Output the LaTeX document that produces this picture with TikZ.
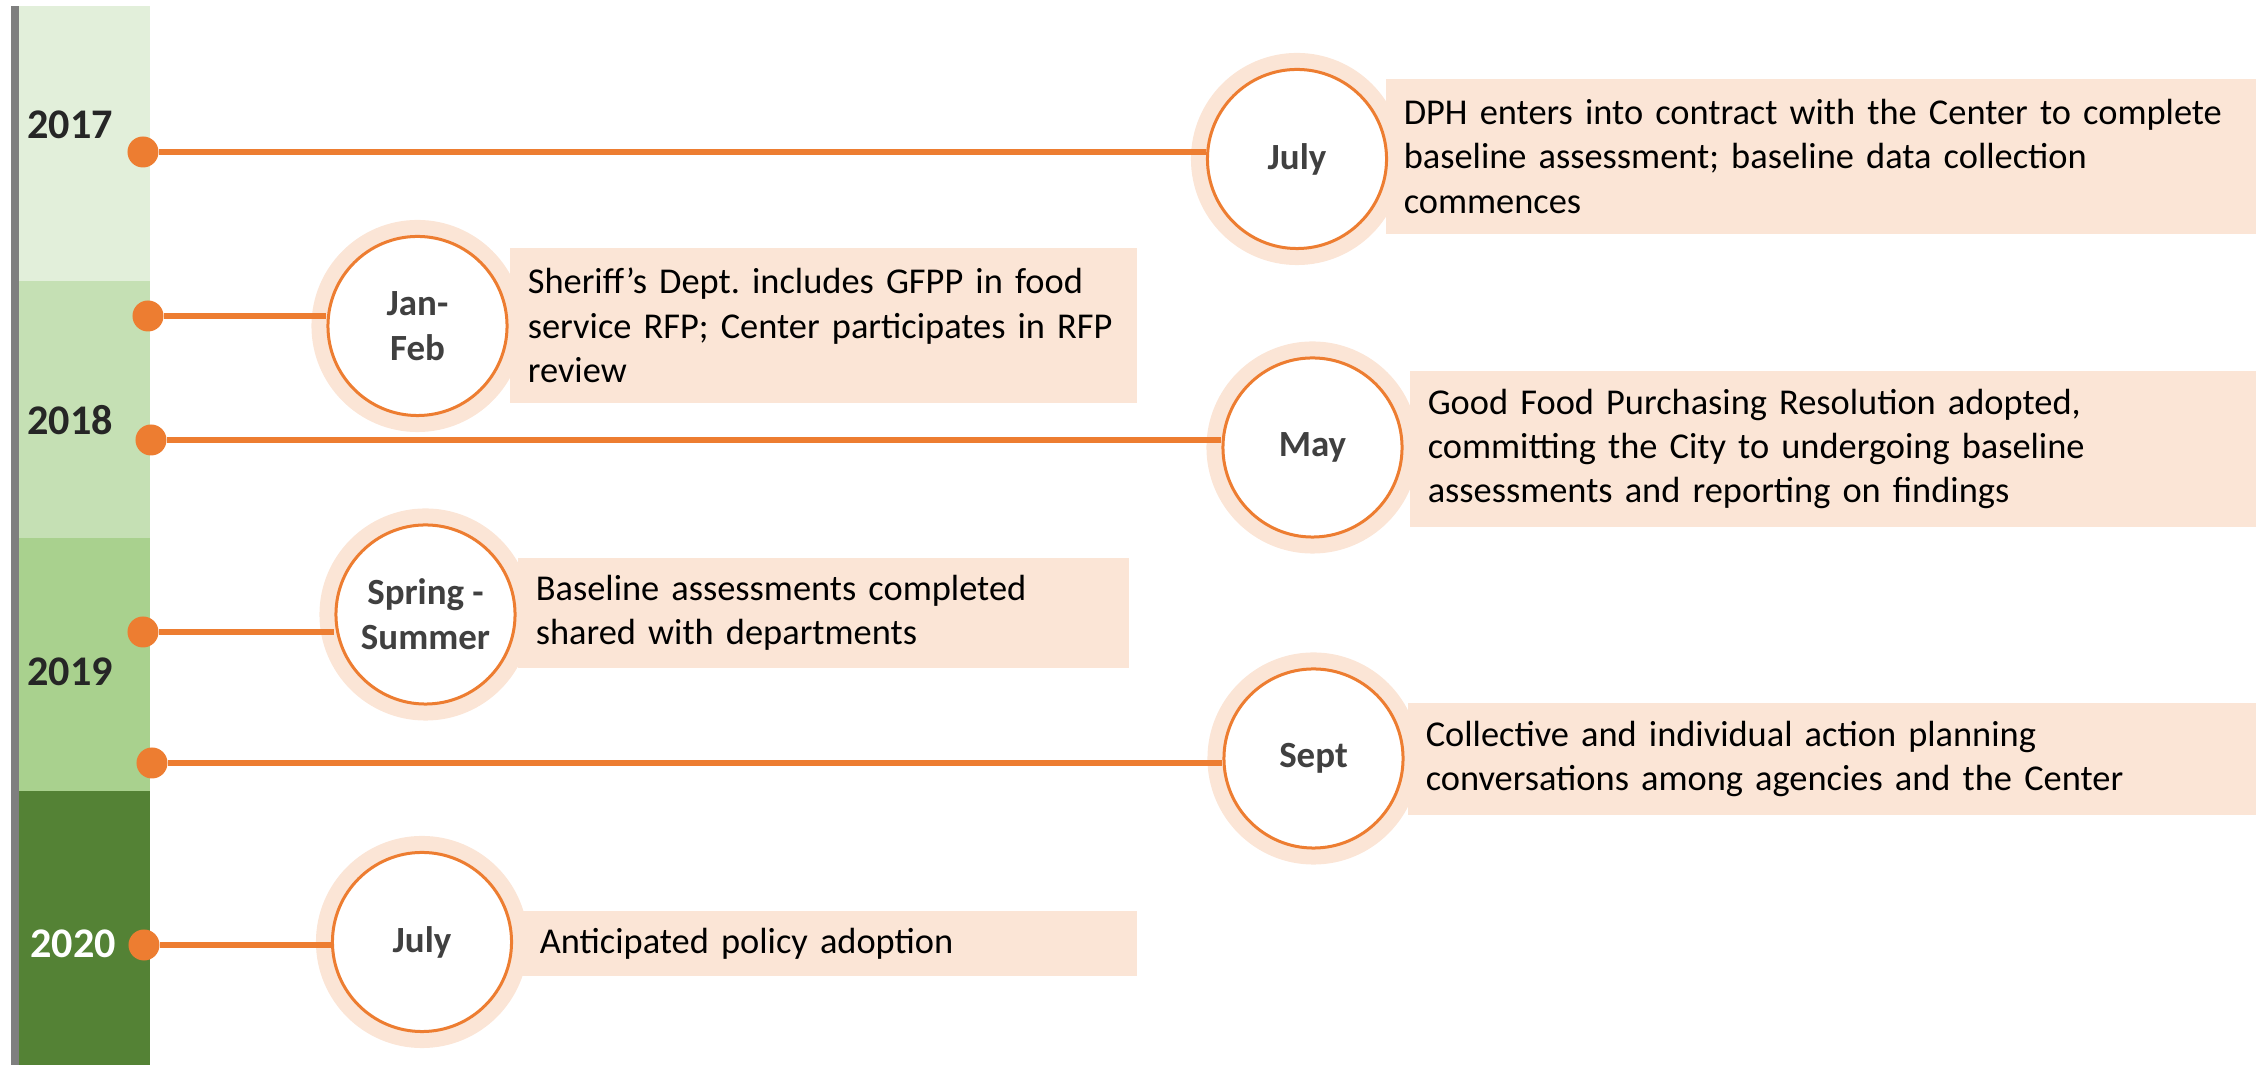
\documentclass[tikz,border=0pt]{standalone}
\usepackage{fontspec}
\setmainfont{Carlito}

\definecolor{tlorange}{HTML}{ED7D31}
\definecolor{tlpeach}{HTML}{FBE5D6}
\definecolor{tlgray}{HTML}{7F7F7F}
\definecolor{tllabel}{HTML}{404040}
\definecolor{tlyear}{HTML}{262626}
\definecolor{bandA}{HTML}{E2EFDA}
\definecolor{bandB}{HTML}{C5E0B4}
\definecolor{bandC}{HTML}{A9D18E}
\definecolor{bandD}{HTML}{548235}

\begin{document}
\begin{tikzpicture}[x=0.01cm, y=-0.01cm,
    link/.style={draw=tlorange, line width=0.055cm},
    dot/.style={circle, fill=tlorange, inner sep=0pt, minimum size=0.31cm},
    month/.style={circle, draw=tlorange, line width=0.03cm, fill=white,
        minimum size=1.79cm, inner sep=0pt, align=center, text=tllabel,
        font=\fontsize{10.5}{12.8}\selectfont\bfseries,
        preaction={draw=tlpeach, line width=0.33cm}},
    event/.style={fill=tlpeach, inner xsep=0.18cm, inner ysep=0pt,
        align=left, font=\fontsize{10.35}{12.6}\selectfont},
    year/.style={font=\fontsize{12}{14}\selectfont\bfseries, text=tlyear}]
    \useasboundingbox (0,0) rectangle (2260,1065);

    % year column
    \fill[tlgray] (10.7,6) rectangle (18.7,1065);
    \foreach \c/\a/\b in {bandA/6/281, bandB/281/538, bandC/538/791, bandD/791/1065} {
        \fill[\c] (18.7,\a) rectangle (150,\b);
    }
    \node[year] (yr2017) at (70,125) {2017};
    \node[year] (yr2018) at (70,420) {2018};
    \node[year] (yr2019) at (70,672) {2019};
    \node[year, text=white] (yr2020) at (73,944) {2020};

    % event boxes
    \node[event, text width=8.34cm, minimum height=1.55cm] (ev1) at (1821,156.5)
        {DPH enters into contract with the Center to complete\\ baseline assessment; baseline data collection\\ commences};
    \node[event, text width=5.91cm, minimum height=1.55cm] (ev2) at (823.5,325.5)
        {Sheriff’s Dept.\ includes GFPP in food\\ service RFP; Center participates in RFP\\ review};
    \node[event, text width=8.10cm, minimum height=1.56cm] (ev3) at (1833,449)
        {Good Food Purchasing Resolution adopted,\\ committing the City to undergoing baseline\\ assessments and reporting on findings};
    \node[event, text width=5.75cm, minimum height=1.10cm] (ev4) at (823.5,613)
        {Baseline assessments completed\\ shared with departments};
    \node[event, text width=8.12cm, minimum height=1.12cm] (ev5) at (1832,759)
        {Collective and individual action planning\\ conversations among agencies and the Center};
    \node[event, text width=5.79cm, minimum height=0.65cm] (ev6) at (829.5,943.5)
        {Anticipated policy adoption};

    % month circles
    \node[month] (mon1) at (1297,159) {July};
    \node[month] (mon2) at (417.5,326) {Jan-\\Feb};
    \node[month] (mon3) at (1312.5,447.5) {May};
    \node[month] (mon4) at (425.5,614.5) {Spring -\\Summer};
    \node[month] (mon5) at (1313.5,758.5) {Sept};
    \node[month] (mon6) at (422,942) {July};

    % dots and links
    \foreach \i/\x/\y in {1/143/152, 2/148/316, 3/151/440, 4/143/632, 5/152/763, 6/144/945} {
        \node[dot] (dot\i) at (\x,\y) {};
    }
    \foreach \i in {1,...,6} {
        \draw[link] (dot\i) -- (dot\i -| mon\i.west);
    }
\end{tikzpicture}
\end{document}
